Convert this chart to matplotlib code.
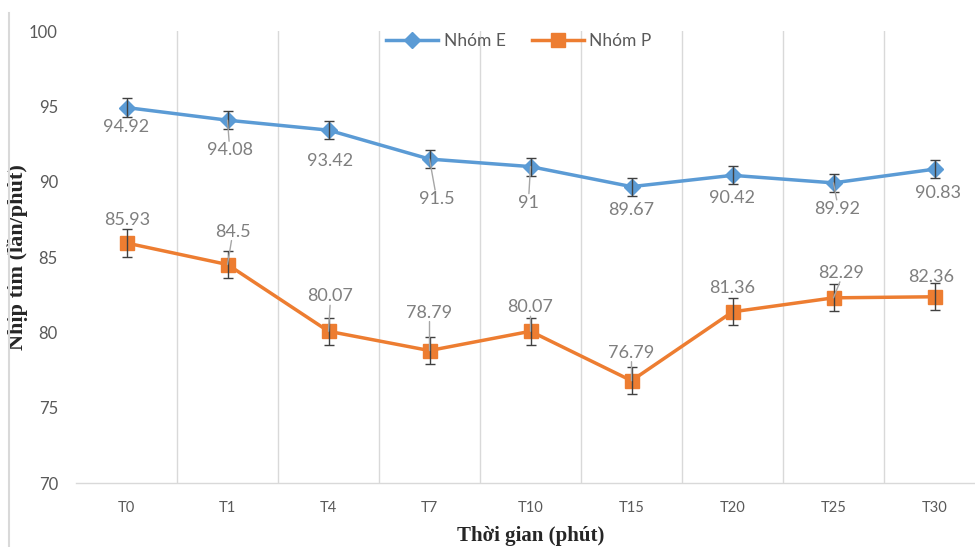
import numpy as np
import matplotlib
matplotlib.use("Agg")
import matplotlib.pyplot as plt

# Heart rate over time for the two groups
time_labels = ["T0", "T1", "T4", "T7", "T10", "T15", "T20", "T25", "T30"]
nhom_e = [94.92, 94.08, 93.42, 91.5, 91, 89.67, 90.42, 89.92, 90.83]
nhom_p = [85.93, 84.5, 80.07, 78.79, 80.07, 76.79, 81.36, 82.29, 82.36]
err_e = [0.6, 0.6, 0.6, 0.6, 0.6, 0.6, 0.6, 0.6, 0.6]
err_p = [0.9, 0.9, 0.9, 0.9, 0.9, 0.9, 0.9, 0.9, 0.9]

# label offsets in pixels (dx, dy with y going up) and whether a leader line is drawn
offs_e = [(0, -19), (2, -30), (2, -31), (7, -40), (-2, -36), (0, -23), (0, -23), (4, -26), (4, -24)]
lead_e = [False, True, False, True, True, False, False, True, False]
offs_p = [(1, 23), (5, 33), (2, 35), (0, 38), (0, 24), (0, 28), (0, 24), (8, 25), (-3, 20)]
lead_p = [False, True, True, True, True, True, False, True, False]

BLUE = "#5B9BD5"
ORANGE = "#ED7D31"
GRID = "#D9D9D9"
TXT = "#595959"
LBL = "#7F7F7F"

fig = plt.figure(figsize=(9.75, 5.47), dpi=100)
ax = fig.add_axes([76 / 975, 64 / 547, 909 / 975, 452 / 547])

x = np.arange(len(time_labels))

ax.errorbar(x, nhom_e, yerr=err_e, fmt="none", ecolor="#404040", elinewidth=1,
            capsize=3.5, capthick=1, zorder=4)
ax.errorbar(x, nhom_p, yerr=err_p, fmt="none", ecolor="#404040", elinewidth=1,
            capsize=3.5, capthick=1, zorder=4)
ax.plot(x, nhom_e, color=BLUE, lw=2.5, marker="D", ms=8.5, label="Nhóm E", zorder=3)
ax.plot(x, nhom_p, color=ORANGE, lw=2.5, marker="s", ms=10, label="Nhóm P", zorder=3)

px = 0.72  # points per pixel at 100 dpi


def put_labels(vals, offs, leads):
    for i, v in enumerate(vals):
        dx, dy = offs[i]
        txt = f"{v:g}"
        ax.annotate(txt, (x[i], v), xytext=(dx * px, dy * px), textcoords="offset points",
                    ha="center", va="center", fontsize=13, color=LBL, family="Lato",
                    zorder=5)
        if leads[i]:
            # short leader line from the label edge towards the marker
            sgn = 1 if dy > 0 else -1
            ax.annotate("", (x[i], v), xytext=(dx * px * 0.8, (dy - sgn * 9) * px),
                        textcoords="offset points",
                        arrowprops=dict(arrowstyle="-", color="#A6A6A6", lw=1,
                                        shrinkA=0, shrinkB=0),
                        zorder=5)


put_labels(nhom_e, offs_e, lead_e)
put_labels(nhom_p, offs_p, lead_p)

ax.set_xlim(-0.5, len(time_labels) - 0.5)
ax.set_ylim(70, 100)
ax.set_yticks([70, 75, 80, 85, 90, 95, 100])
ax.set_xticks(x)
ax.set_xticklabels(time_labels, family="Lato", fontsize=10.5, color=TXT)
ax.set_xticks(np.arange(0.5, len(time_labels) - 0.5, 1), minor=True)
ax.grid(True, which="minor", axis="x", color=GRID, lw=1)
ax.tick_params(axis="both", which="both", length=0)
ax.tick_params(axis="y", labelsize=12, labelcolor=TXT, pad=13)
ax.tick_params(axis="x", pad=13)
for lab in ax.get_yticklabels():
    lab.set_family("Lato")

for s in ["top", "right", "left"]:
    ax.spines[s].set_visible(False)
ax.spines["bottom"].set_color(GRID)
ax.spines["bottom"].set_linewidth(1)

ax.set_ylabel("Nhịp tim (lần/phút)", family="Liberation Serif", fontweight="bold",
              fontsize=16, color="#262626")
ax.yaxis.set_label_coords((28 - 76) / 909, 0.5)
ax.set_xlabel("Thời gian (phút)", family="Liberation Serif", fontweight="bold",
              fontsize=15, color="#262626", labelpad=8)

leg = ax.legend(loc="upper center", bbox_to_anchor=(0.487, 1.03),
                ncol=2, frameon=False, handlelength=3, columnspacing=1.5,
                handletextpad=0.3, prop={"family": "Lato", "size": 12.5})
for t in leg.get_texts():
    t.set_color(TXT)

# left edge of the chart frame
fig.add_artist(plt.Line2D([9 / 975, 9 / 975], [0, 1 - 13 / 547], color=GRID, lw=1.5))

fig.savefig("out.png", dpi=100)
